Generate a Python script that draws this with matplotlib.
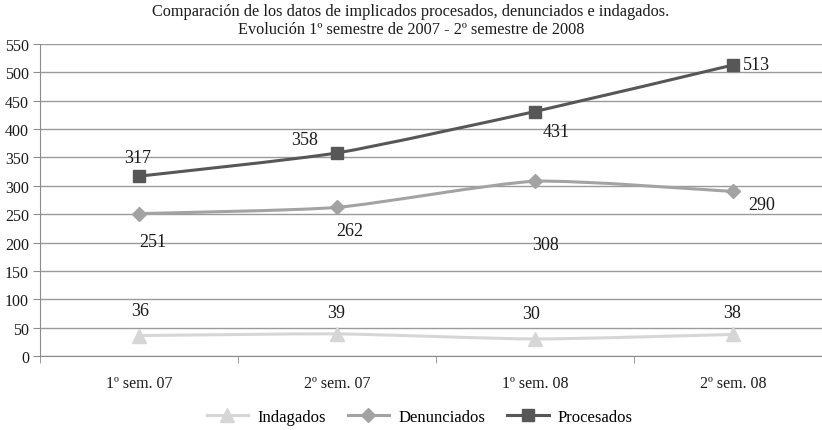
import matplotlib
matplotlib.use("Agg")
import matplotlib.pyplot as plt
from matplotlib.path import Path
from matplotlib.patches import PathPatch
from matplotlib.lines import Line2D
import numpy as np

categories = ["1º sem. 07", "2º sem. 07", "1º sem. 08", "2º sem. 08"]
indagados = [36, 39, 30, 38]
denunciados = [251, 262, 308, 290]
procesados = [317, 358, 431, 513]
series_names = ["Indagados", "Denunciados", "Procesados"]
title = ("Comparación de los datos de implicados procesados, denunciados e indagados.\n"
         "Evolución 1º semestre de 2007 - 2º semestre de 2008")
yticks = list(range(0, 551, 50))

plt.rcParams['font.family'] = ['Liberation Serif', 'DejaVu Serif']

fig = plt.figure(figsize=(8.22, 4.31), dpi=100)
ax = fig.add_axes([40/822, 74/431, 792/822, 312/431])

x = np.arange(len(categories))


def smooth_path(xs, ys, k=10.0):
    pts = np.column_stack([xs, ys]).astype(float)
    n = len(pts)
    verts = [pts[0]]
    codes = [Path.MOVETO]
    for i in range(n - 1):
        p0 = pts[i - 1] if i > 0 else pts[i]
        p1 = pts[i]
        p2 = pts[i + 1]
        p3 = pts[i + 2] if i + 2 < n else pts[i + 1]
        c1 = p1 + (p2 - p0) / k
        c2 = p2 - (p3 - p1) / k
        verts += [c1, c2, p2]
        codes += [Path.CURVE4] * 3
    return Path(verts, codes)


styles = [
    (indagados, "#d6d6d6", "^", 9.5),
    (denunciados, "#a3a3a3", "D", 7.5),
    (procesados, "#575757", "s", 8.5),
]

handles = []
for (vals, col, mk, ms), name in zip(styles, series_names):
    ax.add_patch(PathPatch(smooth_path(x, vals), facecolor='none', edgecolor=col,
                           lw=2.2, zorder=3, capstyle='round'))
    ax.plot(x, vals, linestyle='none', marker=mk, ms=ms, color=col, zorder=4)
    handles.append(Line2D([], [], color=col, lw=2.2, marker=mk, ms=ms, label=name))

label_offsets = {
    "Indagados": [(1, 25), (-1, 21), (-4, 25), (-1, 22)],
    "Denunciados": [(14, -28), (13, -23), (10, -63), (29, -13)],
    "Procesados": [(-1, 19), (-32, 13), (21, -20), (23, 0)],
}
for vals, name in zip([indagados, denunciados, procesados], series_names):
    for xi, v, off in zip(x, vals, label_offsets[name]):
        ax.annotate(str(v), (xi, v), xytext=off, textcoords='offset pixels',
                    ha='center', va='center', fontsize=13, color='#1a1a1a', zorder=5)

ax.set_xlim(-0.5, len(categories) - 0.5)
ax.set_ylim(0, 550)
ax.set_yticks(yticks)
ax.set_xticks(x)
ax.set_xticklabels(categories)
ax.set_xticks(np.arange(-0.5, len(categories), 1.0), minor=True)
ax.tick_params(axis='x', which='major', length=0, pad=14, labelsize=11.5, colors='#1a1a1a')
ax.tick_params(axis='x', which='minor', length=5, color='#8c8c8c', direction='out')
ax.tick_params(axis='y', length=5, color='#8c8c8c', labelsize=11.5, labelcolor='#1a1a1a', pad=3)
ax.grid(axis='y', color='#9a9a9a', lw=1)
ax.set_axisbelow(True)
for s in ['top', 'right']:
    ax.spines[s].set_visible(False)
for s in ['left', 'bottom']:
    ax.spines[s].set_color('#8c8c8c')

fig.text(0.5, 1 - 4/431, title, ha='center', va='top', fontsize=11.7, color='#1a1a1a',
         linespacing=1.2)

fig.legend(handles=handles, loc='center', bbox_to_anchor=(510/822*0.823, 13/431), ncol=3,
           frameon=False, fontsize=12, handlelength=2.5, columnspacing=1.3, handletextpad=0.55)

fig.savefig("out.png", dpi=100)
